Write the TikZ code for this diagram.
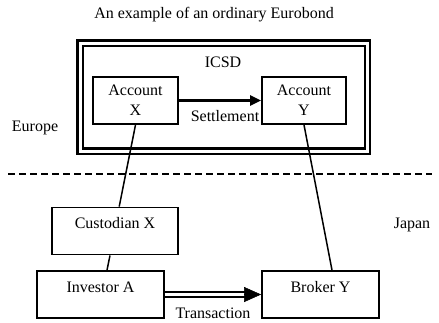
\documentclass[tikz,border=0pt]{standalone}
\usepackage{fontspec}
\setmainfont{Liberation Serif}
\usetikzlibrary{arrows.meta,positioning}
\definecolor{EbdInk}{RGB}{0,0,0}
\tikzset{
  ebd/box/.style={
    draw=EbdInk,
    line width=1.8pt,
    fill=white,
    align=center,
    text=EbdInk,
    inner sep=0pt,
    font=\fontsize{16}{20}\selectfont
  },
  ebd/upper/.style={
    ebd/box,
    text height=21pt,
    text depth=26pt
  },
  ebd/frame/.style={
    draw=EbdInk,
    double=white,
    line width=2.4pt,
    double distance=3pt,
    inner sep=0pt
  },
  ebd/line/.style={draw=EbdInk, line width=1.5pt},
  ebd/divider/.style={draw=EbdInk, line width=1.6pt, dash pattern=on 7pt off 4pt},
  ebd/arrow/.style={-{Triangle[length=11pt,width=10pt]}, line width=3.2pt, draw=EbdInk},
  ebd/dblarrow/.style={draw=EbdInk, double=white, line width=1.8pt, double distance=3pt},
  ebd/tip/.style={-{Triangle[length=17pt,width=15pt]}, line width=0.5pt, draw=EbdInk},
  ebd/label/.style={font=\fontsize{16}{18}\selectfont, text=EbdInk, inner sep=0pt},
  ebd/title/.style={font=\fontsize{16}{18}\selectfont, text=EbdInk, inner sep=0pt}
}
\begin{document}
\begin{tikzpicture}[x=1pt,y=-1pt]
  \useasboundingbox (0,0) rectangle (439,322);
  \node[ebd/title] (title) at (214,15) {An example of an ordinary Eurobond};
  \node[ebd/frame,minimum width=287.5pt,minimum height=108pt] (icsd) at (223.75,97) {};
  \node[ebd/label] (icsdlabel) at (223,62) {ICSD};
  \node[ebd/box,minimum width=85pt,minimum height=47pt] (accx) at (135.5,100.5) {Account\\X};
  \node[ebd/box,minimum width=84pt,minimum height=47pt] (accy) at (304,100.5) {Account\\Y};
  \node[ebd/label] (settle) at (225,116) {Settlement};
  \node[ebd/label] (europe) at (35,128) {Europe};
  \coordinate (divl) at (8,174);
  \coordinate (divr) at (432,174);
  \node[ebd/upper,minimum width=126pt] (cust) at (115,231) {Custodian X};
  \node[ebd/upper,minimum width=127pt] (inva) at (100.5,294.5) {Investor A};
  \node[ebd/upper,minimum width=117pt] (brky) at (320.5,294.5) {Broker Y};
  \node[ebd/label] (japan) at (412,225) {Japan};
  \node[ebd/label] (trans) at (213,313) {Transaction};
  \draw[ebd/arrow] (accx.east) -- (accy.west);
  \draw[ebd/line] (accx.south) -- ([xshift=4.2pt]cust.north);
  \draw[ebd/line] ([xshift=-5pt]cust.south) -- ([xshift=6.5pt]inva.north);
  \draw[ebd/line] (accy.south) -- ([xshift=11.5pt]brky.north);
  \draw[ebd/divider] (divl) -- (divr);
  \draw[ebd/dblarrow,shorten >=14pt] (inva.east) -- (brky.west);
  \draw[ebd/tip,shorten <=80pt] (inva.east) -- (brky.west);
\end{tikzpicture}
\end{document}
